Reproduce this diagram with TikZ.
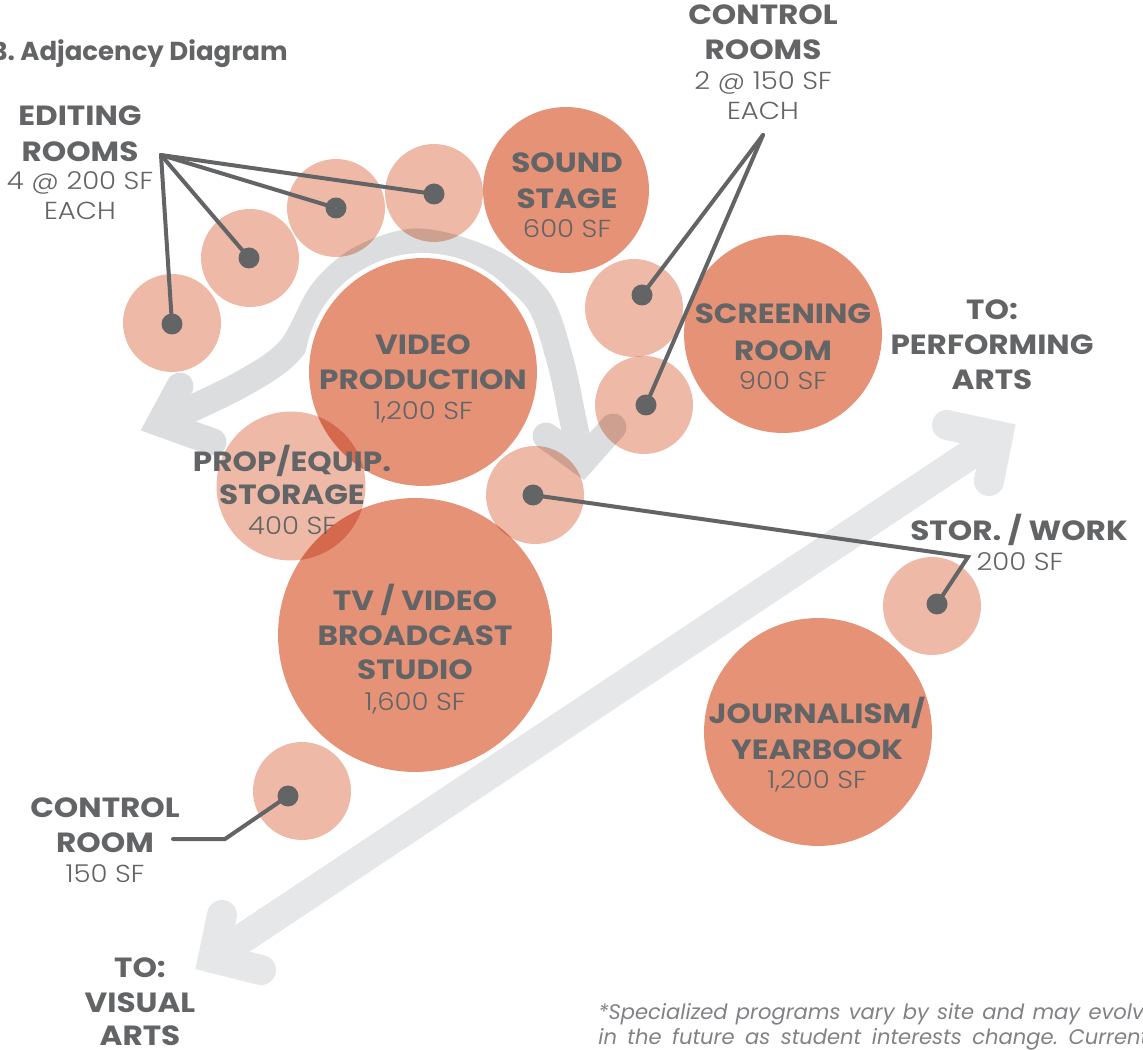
\documentclass[tikz,border=0pt]{standalone}
\usepackage{fontspec}
\setmainfont{Poppins}
\newfontfamily\widefont{Poppins}[FakeStretch=1.12]
\IfFontExistsTF{Poppins Light}
  {\newfontfamily\thinfont{Poppins Light}[FakeStretch=1.12]}
  {\newfontfamily\thinfont{Poppins}[FakeStretch=1.12]}
\definecolor{ink}{HTML}{636466}
\definecolor{roomdark}{HTML}{E59277}
\definecolor{roompale}{HTML}{EEB9A6}
\definecolor{flowgray}{HTML}{DCDDDE}
\definecolor{linkgray}{HTML}{E6E7E8}
\definecolor{notegray}{HTML}{808285}
\begin{document}
\begin{tikzpicture}[x=0.02cm, y=-0.02cm,
  room/.style={circle, inner sep=0pt, minimum size=#1*0.04cm},
  major/.style={room=#1, fill=roomdark},
  minor/.style={room=#1, fill=roompale},
  pin/.style={circle, fill=ink, inner sep=0pt, minimum size=0.42cm},
  leader/.style={draw=ink, line width=0.08cm, line cap=round, line join=miter},
  flow/.style={draw=flowgray, line width=0.54cm, line cap=round, line join=miter},
  link/.style={draw=linkgray, line width=0.6cm, line cap=round, line join=miter},
  heading/.style={text=ink, font=\fontsize{14.8}{16}\selectfont\bfseries, inner sep=0pt},
  roomname/.style={text=ink, font=\widefont\fontsize{15.8}{17}\selectfont\bfseries, anchor=base, inner sep=0pt},
  roomarea/.style={text=ink, font=\thinfont\fontsize{14}{16}\selectfont, anchor=base, inner sep=0pt},
  notetext/.style={text=notegray, font=\fontsize{12}{14}\selectfont\itshape, anchor=base west, inner sep=0pt},
]
\useasboundingbox (0,0) rectangle (1143,1050);

% circulation arrow wrapping around video production
\coordinate (flowL) at (160,423);
\coordinate (flowR) at (582,462);
\draw[flow] plot[smooth, tension=0.55] coordinates {(flowL) (240,385) (290,350) (323,292) (363,258) (420,242) (490,262) (538,300) (560,360) (573,420) (flowR)};
\draw[flow] (180,386) -- (flowL) -- (213,442);
\draw[flow] (546,436) -- (flowR) -- (613,427);

% link between visual and performing arts
\coordinate (toVisual) at (213,958);
\coordinate (toPerform) at (998,436);
\draw[link] (toVisual) -- (toPerform);
\draw[link] (222,915) -- (toVisual) -- (261,970);
\draw[link] (947,425) -- (toPerform) -- (989,481);

% white halo separating video production from the arrow
\node[room=119, fill=white] (halo) at (423,372) {};

% program spaces
\begin{scope}[blend mode=multiply]
  \node[minor=49] (edit1) at (172,323) {};
  \node[minor=49] (edit2) at (250,258) {};
  \node[minor=49] (edit3) at (336,208) {};
  \node[minor=49] (edit4) at (434,193) {};
  \node[major=83] (sound) at (566,190) {};
  \node[minor=49] (ctrlA) at (634,308) {};
  \node[minor=49] (ctrlB) at (644,405) {};
  \node[major=99] (screen) at (783,334) {};
  \node[major=114] (video) at (423,372) {};
  \node[minor=74.5] (prop) at (291,486) {};
  \node[minor=49] (storA) at (535,495) {};
  \node[major=137] (tv) at (415,635) {};
  \node[minor=49] (storB) at (932,606) {};
  \node[major=114] (journ) at (818,732) {};
  \node[minor=49] (croom) at (302,791) {};
\end{scope}

% leaders
\coordinate (editApex) at (161,155);
\coordinate (ctrlApex) at (763,135);
\coordinate (storApex) at (968,557);
\coordinate (croomKnee) at (225,839);
\coordinate (croomEnd) at (173,839);
\node[pin] (pe1) at (172,324) {};
\node[pin] (pe2) at (249,258) {};
\node[pin] (pe3) at (336,208) {};
\node[pin] (pe4) at (434,194) {};
\node[pin] (pc1) at (642,295) {};
\node[pin] (pc2) at (646,405) {};
\node[pin] (ps1) at (533,495) {};
\node[pin] (ps2) at (937,604) {};
\node[pin] (pcr) at (288,796) {};
\draw[leader] (editApex) -- (pe1.center);
\draw[leader] (editApex) -- (pe2.center);
\draw[leader] (editApex) -- (pe3.center);
\draw[leader] (editApex) -- (pe4.center);
\draw[leader] (ctrlApex) -- (pc1.center);
\draw[leader] (ctrlApex) -- (pc2.center);
\draw[leader] (ps1.center) -- (storApex) -- (ps2.center);
\draw[leader] (pcr.center) -- (croomKnee) -- (croomEnd);

% title
\node[heading, anchor=base east] (title) at (288,61) {B. Adjacency Diagram};

% labels
\node[roomname] (ed1) at (80,126) {EDITING};
\node[roomname] (ed2) at (80,162) {ROOMS};
\node[roomarea] (ed3) at (80,190) {4 @ 200 SF};
\node[roomarea] (ed4) at (80,220) {EACH};

\node[roomname] (cr1) at (763,25) {CONTROL};
\node[roomname] (cr2) at (763,60) {ROOMS};
\node[roomarea] (cr3) at (763,90) {2 @ 150 SF};
\node[roomarea] (cr4) at (763,120) {EACH};

\node[roomname] (ss1) at (567,173) {SOUND};
\node[roomname] (ss2) at (567,209) {STAGE};
\node[roomarea] (ss3) at (567,238) {600 SF};

\node[roomname] (sr1) at (783,324) {SCREENING};
\node[roomname] (sr2) at (783,361) {ROOM};
\node[roomarea] (sr3) at (783,390) {900 SF};

\node[roomname] (pa1) at (992,320) {TO:};
\node[roomname] (pa2) at (992,355) {PERFORMING};
\node[roomname] (pa3) at (992,390) {ARTS};

\node[roomname] (vp1) at (423,355) {VIDEO};
\node[roomname] (vp2) at (423,390) {PRODUCTION};
\node[roomarea] (vp3) at (423,420) {1,200 SF};

\node[roomname] (pe1t) at (292,472) {PROP/EQUIP.};
\node[roomname] (pe2t) at (292,505) {STORAGE};
\node[roomarea] (pe3t) at (292,535) {400 SF};

\node[roomname] (tv1) at (415,611) {TV / VIDEO};
\node[roomname] (tv2) at (415,645) {BROADCAST};
\node[roomname] (tv3) at (415,680) {STUDIO};
\node[roomarea] (tv4) at (415,710) {1,600 SF};

\node[roomname] (sw1) at (1019,541) {STOR. / WORK};
\node[roomarea] (sw2) at (1020,571) {200 SF};

\node[roomname] (jy1) at (817,724) {JOURNALISM/};
\node[roomname] (jy2) at (817,759) {YEARBOOK};
\node[roomarea] (jy3) at (817,788) {1,200 SF};

\node[roomname] (cl1) at (105,817) {CONTROL};
\node[roomname] (cl2) at (105,852) {ROOM};
\node[roomarea] (cl3) at (105,882) {150 SF};

\node[roomname] (va1) at (140,977) {TO:};
\node[roomname] (va2) at (140,1012) {VISUAL};
\node[roomname] (va3) at (140,1045) {ARTS};

% footnote
\node[notetext] (fn1) at (598,1019) {\hbox to 318pt{*Specialized\hfill programs\hfill vary\hfill by\hfill site\hfill and\hfill may\hfill evolve}};
\node[notetext] (fn2) at (598,1044) {\hbox to 313pt{in\hfill the\hfill future\hfill as\hfill student\hfill interests\hfill change.\hfill Current}};
\end{tikzpicture}
\end{document}
